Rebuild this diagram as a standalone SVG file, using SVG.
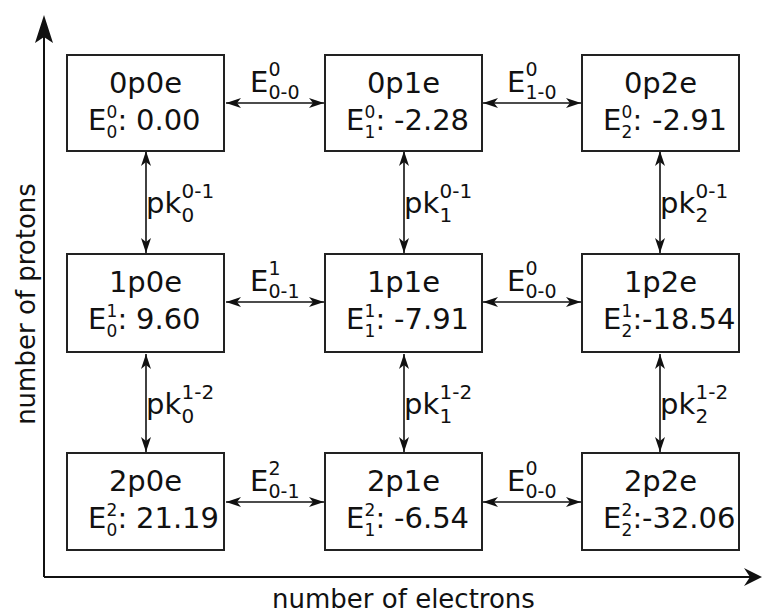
<svg xmlns="http://www.w3.org/2000/svg" width="763" height="614" viewBox="0 0 763 614">
  <style>
    text { font-family: "DejaVu Sans", "Liberation Sans", sans-serif; fill: #111; font-size: 29px; }
    .box { fill: #fff; stroke: #222; stroke-width: 2; }
    .s { font-size: 17px; }
    .ls { font-size: 19px; }
    .ps { font-size: 20px; }
    .c { text-anchor: middle; }
    .link { stroke: #111; stroke-width: 1.6; fill: none; marker-start: url(#ah); marker-end: url(#ah); }
    .axis { stroke: #111; stroke-width: 2; fill: none; }
    .ax { font-size: 26px; }
  </style>
  <defs>
    <marker id="ah" viewBox="-16 -6 17 12" refX="0" refY="0" markerWidth="17" markerHeight="12" markerUnits="userSpaceOnUse" orient="auto-start-reverse">
      <path d="M0,0 L-15,-5 L-11,0 L-15,5 Z" fill="#111"/>
    </marker>
  </defs>

  <!-- axes -->
  <g id="axes">
    <path class="axis" d="M44,577 V36 M44,577 H752"/>
    <path d="M44,15 L35,43 L44,37 L53,43 Z" fill="#111"/>
    <path d="M762,577 L744,568 L750,577 L744,586 Z" fill="#111"/>
    <text class="ax c" transform="translate(35,304) rotate(-90)">number of protons</text>
    <text class="ax c" x="403.5" y="608">number of electrons</text>
  </g>

  <!-- connectors -->
  <g id="connectors">
    <path class="link" d="M226,103 H324"/>
    <path class="link" d="M483,103 H581"/>
    <path class="link" d="M226,302 H324"/>
    <path class="link" d="M483,302 H581"/>
    <path class="link" d="M226,502 H324"/>
    <path class="link" d="M483,502 H581"/>
    <path class="link" d="M146,151 V253"/>
    <path class="link" d="M404,151 V253"/>
    <path class="link" d="M660,151 V253"/>
    <path class="link" d="M146,354 V452"/>
    <path class="link" d="M404,354 V452"/>
    <path class="link" d="M660,354 V452"/>

    <!-- energy differences between neighbouring states -->
    <text x="250" y="92">E<tspan class="ls" x="268.5" y="76">0</tspan><tspan class="ls" x="268.5" y="98.5">0-0</tspan></text>
    <text x="507" y="92">E<tspan class="ls" x="525.5" y="76">0</tspan><tspan class="ls" x="525.5" y="98.5">1-0</tspan></text>
    <text x="250" y="291">E<tspan class="ls" x="268.5" y="275">1</tspan><tspan class="ls" x="268.5" y="297.5">0-1</tspan></text>
    <text x="507" y="291">E<tspan class="ls" x="525.5" y="275">0</tspan><tspan class="ls" x="525.5" y="297.5">0-0</tspan></text>
    <text x="250" y="491">E<tspan class="ls" x="268.5" y="475">2</tspan><tspan class="ls" x="268.5" y="497.5">0-1</tspan></text>
    <text x="507" y="491">E<tspan class="ls" x="525.5" y="475">0</tspan><tspan class="ls" x="525.5" y="497.5">0-0</tspan></text>

    <!-- protonation constants -->
    <text x="146" y="213">pk<tspan class="ps" x="181.5" y="198">0-1</tspan><tspan class="ps" x="181.5" y="221.5">0</tspan></text>
    <text x="404" y="213">pk<tspan class="ps" x="439.5" y="198">0-1</tspan><tspan class="ps" x="439.5" y="221.5">1</tspan></text>
    <text x="660" y="213">pk<tspan class="ps" x="695.5" y="198">0-1</tspan><tspan class="ps" x="695.5" y="221.5">2</tspan></text>
    <text x="146" y="414">pk<tspan class="ps" x="181.5" y="399">1-2</tspan><tspan class="ps" x="181.5" y="422.5">0</tspan></text>
    <text x="404" y="414">pk<tspan class="ps" x="439.5" y="399">1-2</tspan><tspan class="ps" x="439.5" y="422.5">1</tspan></text>
    <text x="660" y="414">pk<tspan class="ps" x="695.5" y="399">1-2</tspan><tspan class="ps" x="695.5" y="422.5">2</tspan></text>
  </g>

  <!-- row 0 -->
  <g id="n-0p0e">
    <rect class="box" x="67" y="55" width="157" height="96"/>
    <text class="c" x="145.5" y="93">0p0e</text>
    <text x="88" y="130">E<tspan class="s" x="106.5" y="118">0</tspan><tspan class="s" x="106.5" y="138">0</tspan><tspan x="117.5" y="130">:</tspan><tspan x="136" y="130">0.00</tspan></text>
  </g>
  <g id="n-0p1e">
    <rect class="box" x="325" y="55" width="157" height="96"/>
    <text class="c" x="403.5" y="93">0p1e</text>
    <text x="346" y="130">E<tspan class="s" x="364.5" y="118">0</tspan><tspan class="s" x="364.5" y="138">1</tspan><tspan x="375.5" y="130">:</tspan><tspan x="394" y="130">-2.28</tspan></text>
  </g>
  <g id="n-0p2e">
    <rect class="box" x="582" y="55" width="157" height="96"/>
    <text class="c" x="660.5" y="93">0p2e</text>
    <text x="603" y="130">E<tspan class="s" x="621.5" y="118">0</tspan><tspan class="s" x="621.5" y="138">2</tspan><tspan x="632.5" y="130">:</tspan><tspan x="652" y="130">-2.91</tspan></text>
  </g>

  <!-- row 1 -->
  <g id="n-1p0e">
    <rect class="box" x="67" y="254" width="157" height="98"/>
    <text class="c" x="145.5" y="292">1p0e</text>
    <text x="88" y="329">E<tspan class="s" x="106.5" y="317">1</tspan><tspan class="s" x="106.5" y="337">0</tspan><tspan x="117.5" y="329">:</tspan><tspan x="136" y="329">9.60</tspan></text>
  </g>
  <g id="n-1p1e">
    <rect class="box" x="325" y="254" width="157" height="98"/>
    <text class="c" x="403.5" y="292">1p1e</text>
    <text x="346" y="329">E<tspan class="s" x="364.5" y="317">1</tspan><tspan class="s" x="364.5" y="337">1</tspan><tspan x="375.5" y="329">:</tspan><tspan x="394" y="329">-7.91</tspan></text>
  </g>
  <g id="n-1p2e">
    <rect class="box" x="582" y="254" width="157" height="98"/>
    <text class="c" x="660.5" y="292">1p2e</text>
    <text x="603" y="329">E<tspan class="s" x="621.5" y="317">1</tspan><tspan class="s" x="621.5" y="337">2</tspan><tspan x="632.5" y="329">:</tspan><tspan x="642" y="329">-18.54</tspan></text>
  </g>

  <!-- row 2 -->
  <g id="n-2p0e">
    <rect class="box" x="67" y="453" width="157" height="97"/>
    <text class="c" x="145.5" y="491">2p0e</text>
    <text x="88" y="528">E<tspan class="s" x="106.5" y="516">2</tspan><tspan class="s" x="106.5" y="536">0</tspan><tspan x="117.5" y="528">:</tspan><tspan x="136" y="528">21.19</tspan></text>
  </g>
  <g id="n-2p1e">
    <rect class="box" x="325" y="453" width="157" height="97"/>
    <text class="c" x="403.5" y="491">2p1e</text>
    <text x="346" y="528">E<tspan class="s" x="364.5" y="516">2</tspan><tspan class="s" x="364.5" y="536">1</tspan><tspan x="375.5" y="528">:</tspan><tspan x="394" y="528">-6.54</tspan></text>
  </g>
  <g id="n-2p2e">
    <rect class="box" x="582" y="453" width="157" height="97"/>
    <text class="c" x="660.5" y="491">2p2e</text>
    <text x="603" y="528">E<tspan class="s" x="621.5" y="516">2</tspan><tspan class="s" x="621.5" y="536">2</tspan><tspan x="632.5" y="528">:</tspan><tspan x="642" y="528">-32.06</tspan></text>
  </g>
</svg>
